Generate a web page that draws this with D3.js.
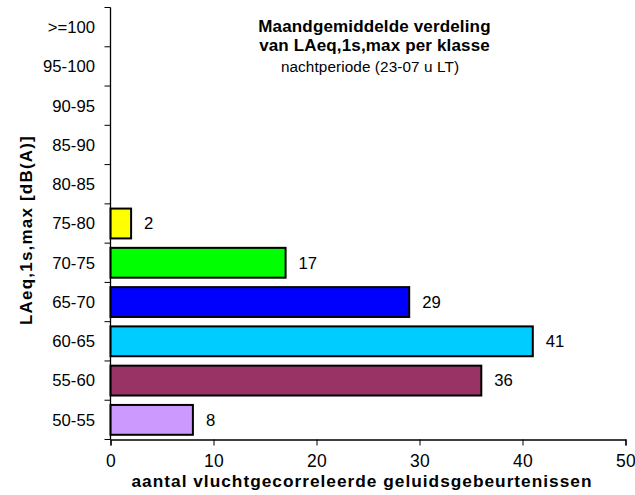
<!DOCTYPE html>
<meta charset="utf-8">
<script src="https://d3js.org/d3.v7.min.js"></script>
<style>
  body { margin: 0; background: #fff; }
  text { font-family: "Liberation Sans", Arial, sans-serif; }
</style>
<div id="chart"></div>
<script>
// Data (bottom to top)
const categories = ["50-55", "55-60", "60-65", "65-70", "70-75", "75-80", "80-85", "85-90", "90-95", "95-100", ">=100"];
const counts = [8, 36, 41, 29, 17, 2, 0, 0, 0, 0, 0];
const barColors = ["#CC99FF", "#993366", "#00CCFF", "#0000FF", "#00FF00", "#FFFF00", "#fff", "#fff", "#fff", "#fff", "#fff"];
const xTicks = [0, 10, 20, 30, 40, 50];

const W = 635, H = 495;
const margin = {top: 7.5, right: 9.5, bottom: 55.5, left: 110.5};
const width = W - margin.left - margin.right,
      height = H - margin.top - margin.bottom;

const svg = d3.select("#chart").append("svg")
    .attr("width", W).attr("height", H);

const g = svg.append("g")
    .attr("transform", `translate(${margin.left}, ${margin.top})`);

const x = d3.scaleLinear().domain([0, 50]).range([0, width]);
const y = d3.scaleBand()
    .domain(categories.slice().reverse())
    .range([0, height])
    .paddingInner(0.24).paddingOuter(0.12);

const data = categories.map((c, i) => ({cat: c, val: counts[i], color: barColors[i]}));

// Bars
g.append("g").selectAll("rect")
  .data(data.filter(d => d.val > 0))
  .join("rect")
    .attr("x", x(0))
    .attr("y", d => y(d.cat))
    .attr("width", d => x(d.val))
    .attr("height", y.bandwidth())
    .attr("fill", d => d.color)
    .attr("stroke", "#000")
    .attr("stroke-width", 2);

// Value labels
g.append("g").selectAll("text")
  .data(data.filter(d => d.val > 0))
  .join("text")
    .attr("x", d => x(d.val) + 13)
    .attr("y", d => y(d.cat) + y.bandwidth() / 2)
    .attr("dy", "0.35em")
    .attr("font-size", 16.7)
    .text(d => d.val);

// Y axis: ticks between categories
const yAxis = g.append("g");
yAxis.append("line")
    .attr("x1", 0).attr("x2", 0).attr("y1", 0).attr("y2", height)
    .attr("stroke", "#000").attr("stroke-width", 1.3);
const step = height / categories.length;
yAxis.selectAll(".tk")
  .data(d3.range(categories.length + 1))
  .join("line")
    .attr("x1", -6).attr("x2", 0)
    .attr("y1", i => i * step).attr("y2", i => i * step)
    .attr("stroke", "#000");
yAxis.selectAll(".lab")
  .data(categories)
  .join("text")
    .attr("x", -15.5)
    .attr("y", d => y(d) + y.bandwidth() / 2)
    .attr("dy", "0.35em")
    .attr("text-anchor", "end")
    .attr("font-size", 16.7)
    .text(d => d);

// X axis
const xAxis = g.append("g")
    .attr("transform", `translate(0, ${height})`)
    .call(d3.axisBottom(x).tickValues(xTicks).tickSize(6).tickPadding(9));
xAxis.select(".domain").attr("stroke-width", 1.3);
xAxis.selectAll("text")
    .attr("font-size", 17.5)
    .attr("letter-spacing", 0.3)
    .attr("font-family", "Liberation Sans, Arial, sans-serif");

// Axis titles
svg.append("text")
    .attr("x", 362)
    .attr("y", 486.5)
    .attr("text-anchor", "middle")
    .attr("font-size", 17.3)
    .attr("font-weight", "bold")
    .attr("letter-spacing", 1)
    .text("aantal vluchtgecorreleerde geluidsgebeurtenissen");

svg.append("text")
    .attr("transform", `translate(32, 230) rotate(-90)`)
    .attr("text-anchor", "middle")
    .attr("font-size", 17)
    .attr("font-weight", "bold")
    .attr("letter-spacing", 1.2)
    .text("LAeq,1s,max [dB(A)]");

// Title
const title = svg.append("text")
    .attr("text-anchor", "middle");
title.append("tspan").attr("x", 374.5).attr("y", 31.5)
    .attr("font-size", 17).attr("font-weight", "bold").attr("letter-spacing", 0.15)
    .text("Maandgemiddelde verdeling");
title.append("tspan").attr("x", 374.5).attr("y", 50.5)
    .attr("font-size", 17).attr("font-weight", "bold").attr("letter-spacing", 0.15)
    .text("van LAeq,1s,max per klasse");
title.append("tspan").attr("x", 370).attr("y", 72)
    .attr("font-size", 15.3).attr("letter-spacing", 0.1)
    .text("nachtperiode (23-07 u LT)");
</script>
